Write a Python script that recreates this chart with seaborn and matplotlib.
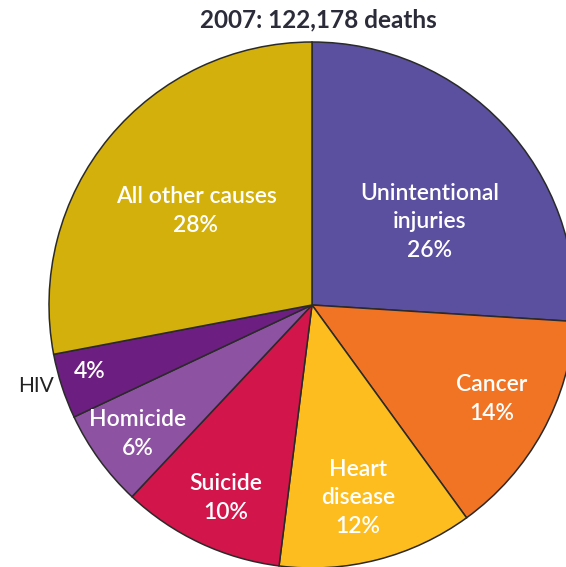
import matplotlib.pyplot as plt
import seaborn as sns

# data
causes = ["Unintentional\ninjuries", "Cancer", "Heart\ndisease", "Suicide",
          "Homicide", "HIV", "All other causes"]
shares = [26, 14, 12, 10, 6, 4, 28]
colors = ["#5b4fa0", "#f07423", "#fdbd1e", "#d2154a", "#8e52a2", "#6c1f80", "#d4b00c"]
title = "2007: 122,178 deaths"

sns.set_theme(style="white")
plt.rcParams['font.family'] = ['Lato', 'DejaVu Sans']

W, H = 566, 567
fig = plt.figure(figsize=(W / 100, H / 100), dpi=100)
ax = fig.add_axes([0, 0, 1, 1])

# pie placed in pixel space (image coords, y down -> flip)
cx, cy, r = 312, 305, 263
ax.pie(shares, colors=colors, startangle=90, counterclock=False,
       center=(cx, H - cy), radius=r,
       wedgeprops=dict(edgecolor="#2a2a2a", linewidth=1.1))
ax.set_xlim(0, W)
ax.set_ylim(0, H)
ax.set_aspect('equal', adjustable='box')
ax.axis('off')

# label positions in image pixels (layout only)
label_pos = [(430, 222), (492, 399), (358, 498), (226, 498),
             (138, 434), (90, 372), (196, 211)]
for name, val, (x, y) in zip(causes, shares, label_pos):
    if name == "HIV":
        txt = f"{val}%"
        ax.text(36, H - 386, "HIV", color="#222222", fontsize=15,
                ha="center", va="center")
    else:
        txt = f"{name}\n{val}%"
    ax.text(x, H - y, txt, color="white", fontsize=16.5, fontweight="semibold",
            ha="center", va="center", linespacing=1.45)

ax.text(318, H - 20, title, color="#2b2b3a", fontsize=17.5, fontweight="bold",
        ha="center", va="center")

fig.savefig("out.png", dpi=100)
